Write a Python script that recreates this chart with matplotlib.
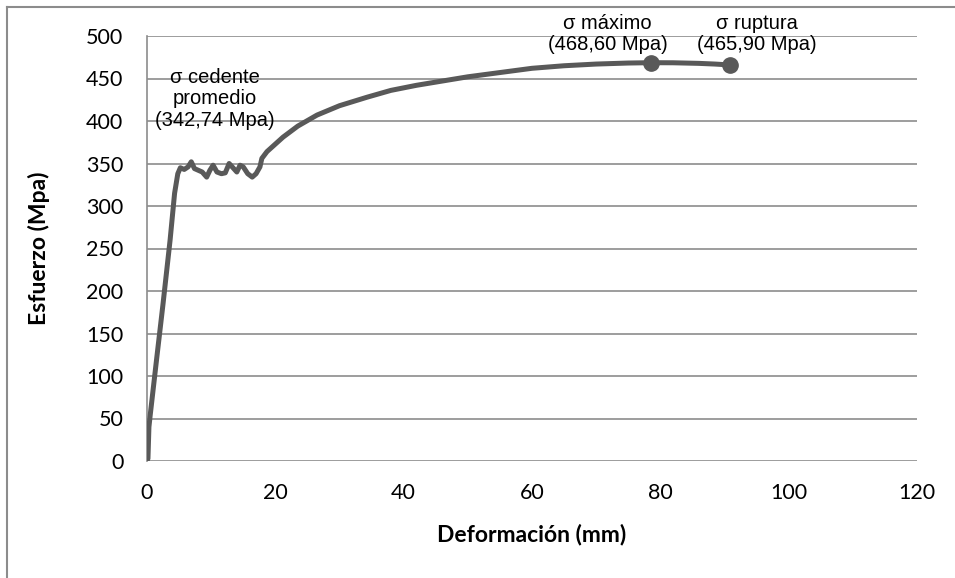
import matplotlib
matplotlib.use("Agg")
import matplotlib.pyplot as plt
from matplotlib.lines import Line2D

# Data
deformacion = [0.0, 0.15, 0.3, 0.5, 1.5, 2.5, 3.6, 4.3, 4.8, 5.2, 5.8, 6.4, 6.9, 7.4, 8.0, 8.6,
               9.3, 9.8, 10.3, 10.9, 11.6, 12.2, 12.8, 13.4, 14.0, 14.5, 15.0, 15.7, 16.4,
               17.0, 17.3, 17.6, 17.9, 18.7, 21.2, 23.5, 26.5, 30.0, 34.3, 38.0, 42.0,
               46.8, 50.0, 55.0, 60.0, 65.0, 70.0, 75.0, 78.5, 82.0, 86.0, 88.5, 90.9]
esfuerzo = [0.0, 3.0, 40.0, 54.0, 120.0, 185.0, 260.0, 315.0, 338.0, 345.0, 343.0, 346.0, 352.0,
            344.0, 342.0, 340.0, 334.0, 342.0, 348.0, 340.0, 338.0, 339.0, 350.0, 345.0, 340.0,
            348.0, 346.0, 338.0, 334.0, 338.0, 342.0, 346.0, 356.0, 364.0, 381.0, 394.0, 407.0,
            418.0, 428.0, 436.0, 442.0, 448.0, 452.0, 457.0, 462.0, 465.0, 467.0, 468.2, 468.6,
            468.5, 467.8, 467.0, 465.9]

puntos_x = [78.5, 90.9]
puntos_y = [468.6, 465.9]

x_ticks = [0, 20, 40, 60, 80, 100, 120]
y_ticks = [0, 50, 100, 150, 200, 250, 300, 350, 400, 450, 500]

W, H = 955, 578
fig = plt.figure(figsize=(W / 100, H / 100), dpi=100)
ax = fig.add_axes([147 / W, (H - 461) / H, (917 - 147) / W, (461 - 36) / H])

line_color = "#595959"
grid_color = "#8c8c8c"

ax.plot(deformacion, esfuerzo, color=line_color, lw=3.6, solid_capstyle="round",
        solid_joinstyle="round", zorder=3)
ax.plot(puntos_x, puntos_y, "o", color=line_color, ms=11, zorder=4)

ax.set_xlim(0, 120)
ax.set_ylim(0, 500)
ax.set_xticks(x_ticks)
ax.set_yticks(y_ticks)
ax.grid(axis="y", color=grid_color, lw=1.2)
ax.set_axisbelow(True)
for s in ["top", "right", "bottom"]:
    ax.spines[s].set_visible(False)
ax.spines["left"].set_color(grid_color)
ax.spines["left"].set_linewidth(1.2)
ax.tick_params(length=0, labelsize=15.5, colors="black")
ax.tick_params(axis="y", pad=17)
ax.tick_params(axis="x", pad=16)
for lbl in ax.get_xticklabels() + ax.get_yticklabels():
    lbl.set_family(["Lato", "DejaVu Sans"])

ax.set_xlabel("Deformación (mm)", fontsize=16.5, fontweight="bold",
              family=["Lato", "DejaVu Sans"], labelpad=15)
ax.set_ylabel("Esfuerzo (Mpa)", fontsize=16.5, fontweight="bold",
              family=["Lato", "DejaVu Sans"], labelpad=26)

ann_font = dict(fontsize=14.5, family=["Liberation Sans", "DejaVu Sans"], ha="center",
                va="center", linespacing=1.15)
ax.text(10.6, 426, "σ cedente\npromedio\n(342,74 Mpa)", **ann_font)
ax.text(71.8, 502, "σ máximo\n(468,60 Mpa)", **ann_font)
ax.text(95.1, 502, "σ ruptura\n(465,90 Mpa)", **ann_font)

# outer chart border (top and left edges visible)
fig.add_artist(Line2D([7 / W, 1.0], [1 - 7 / H, 1 - 7 / H], color="#8c8c8c", lw=1.5,
                      transform=fig.transFigure))
fig.add_artist(Line2D([7 / W, 7 / W], [0.0, 1 - 7 / H], color="#8c8c8c", lw=1.5,
                      transform=fig.transFigure))

fig.savefig("out.png", dpi=100)
